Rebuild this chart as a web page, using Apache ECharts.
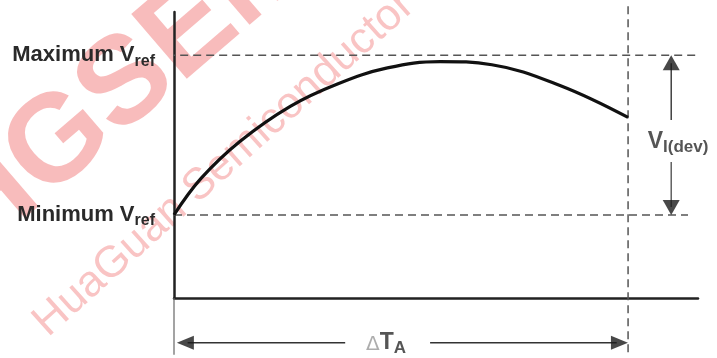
<!DOCTYPE html>
<html>
<head>
<meta charset="utf-8">
<script src="https://cdn.jsdelivr.net/npm/echarts@6/dist/echarts.min.js"></script>
<style>
html,body{margin:0;padding:0;background:#fff;}
#chart{width:717px;height:358px;}
</style>
</head>
<body>
<div id="chart"></div>
<script>
// curve: x in % of the temperature span, y as fraction between min and max Vref
var curveX = [0, 6, 14.5, 25.6, 36, 47, 58.6, 70, 85, 100];
var curveV = [0, 0.23, 0.46, 0.68, 0.82, 0.92, 0.96, 0.94, 0.81, 0.61];
var refLevels = [0, 1];
var refNames = ['Minimum', 'Maximum'];
var refEnds = [113.2, 115.4];
var tEnd = 100;          // end of delta T span
var devX = 109.5;        // V_I(dev) arrow position
var dtY = -0.8;          // delta T arrow position

var chart = echarts.init(document.getElementById('chart'));

var curveData = [];
for (var i = 0; i < curveX.length; i++) {
    curveData.push([curveX[i], curveV[i]]);
}

function plainLine(data, color, width, type) {
    return {
        type: 'line',
        data: data,
        symbol: 'none',
        clip: false,
        silent: true,
        animation: false,
        lineStyle: {color: color, width: width, type: type},
        z: 1
    };
}

var series = [{
    type: 'line',
    data: curveData,
    smooth: 0.4,
    symbol: 'none',
    animation: false,
    lineStyle: {color: '#111', width: 3.2},
    z: 5
}];

series.push(plainLine([[-1.5, refLevels[1]], [refEnds[1], refLevels[1]]], '#555', 1.5, [8, 5]));
series.push(plainLine([[0, refLevels[0]], [refEnds[0], refLevels[0]]], '#555', 1.5, [8, 5]));
series.push(plainLine([[tEnd, 1.306], [tEnd, -0.8625]], '#555', 1.5, [8, 5]));
series.push(plainLine([[0, -0.52], [0, -0.875]], '#666', 1.2, 'solid'));

// arrow shafts
series.push(plainLine([[devX, 0.594], [devX, 0.95]], '#333', 1.4, 'solid'));
series.push(plainLine([[devX, 0.331], [devX, 0.05]], '#555', 1.4, 'solid'));
series.push(plainLine([[37.7, dtY], [3, dtY]], '#333', 1.4, 'solid'));
series.push(plainLine([[56.4, dtY], [97.5, dtY]], '#333', 1.4, 'solid'));

// arrow heads (symbol centred on the point)
series.push({
    type: 'scatter',
    clip: false,
    silent: true,
    animation: false,
    symbol: 'triangle',
    itemStyle: {color: '#1a1a1a'},
    z: 6,
    data: [
        {value: [devX, 0.953], symbolSize: [17, 15], symbolRotate: 0},
        {value: [devX, 0.047], symbolSize: [17, 15], symbolRotate: 180},
        {value: [2.5, dtY], symbolSize: [14, 17], symbolRotate: 90},
        {value: [98.1, dtY], symbolSize: [14, 17], symbolRotate: -90}
    ]
});

series.push({
    type: 'scatter',
    symbolSize: 0,
    clip: false,
    silent: true,
    animation: false,
    data: [
        {value: [111.0, 0.46], name: 'dev'},
        {value: [46.7, dtY], name: 'dt'}
    ],
    label: {
        show: true,
        position: 'inside',
        formatter: function (p) {
            if (p.name === 'dev') return '{v|V}{s|I(dev)}';
            return '{d|\u0394}{t|T}{s|A}';
        },
        rich: {
            v: {fontSize: 23, fontWeight: 'bold', color: '#2a2a2a', fontFamily: 'Liberation Sans'},
            t: {fontSize: 23, fontWeight: 'bold', color: '#2a2a2a', fontFamily: 'Liberation Sans'},
            d: {fontSize: 20, color: '#999', fontFamily: 'DejaVu Sans', padding: [4, 0, 0, 0]},
            s: {fontSize: 17, fontWeight: 'bold', color: '#2a2a2a', fontFamily: 'Liberation Sans', padding: [12, 0, 0, 0]}
        }
    }
});

var option = {
    backgroundColor: '#fff',
    animation: false,
    grid: {left: 174, right: 19, top: 12, bottom: 60},
    graphic: [{
        type: 'text',
        x: 140, y: 74,
        rotation: 0.71,
        z: -10,
        silent: true,
        style: {
            text: 'HGSEMI',
            fontSize: 124,
            fontWeight: 'bold',
            fontFamily: 'Liberation Sans',
            fill: 'rgba(235,60,60,0.34)',
            align: 'center', verticalAlign: 'middle',
            textAlign: 'center', textVerticalAlign: 'middle'
        }
    }, {
        type: 'text',
        x: 224, y: 164,
        rotation: 0.73,
        z: -10,
        silent: true,
        style: {
            text: 'HuaGuan Semiconductor',
            fontSize: 44,
            fontFamily: 'Liberation Sans',
            fill: 'rgba(235,60,60,0.3)',
            align: 'center', verticalAlign: 'middle',
            textAlign: 'center', textVerticalAlign: 'middle'
        }
    }],
    xAxis: {
        type: 'value',
        min: 0,
        max: 115.4,
        axisLine: {show: true, onZero: false, lineStyle: {color: '#222', width: 2.5}},
        axisTick: {show: false},
        axisLabel: {show: false},
        splitLine: {show: false}
    },
    yAxis: {
        type: 'value',
        min: -0.52,
        max: 1.27,
        axisLine: {show: true, onZero: false, lineStyle: {color: '#222', width: 2.5}},
        axisTick: {show: false},
        splitLine: {show: false},
        axisLabel: {
            show: true,
            customValues: refLevels,
            margin: 19,
            formatter: function (v) {
                return '{m|' + refNames[refLevels.indexOf(v)] + ' V}{s|ref}';
            },
            rich: {
                m: {fontSize: 22, fontWeight: 'bold', color: '#2a2a2a', fontFamily: 'Liberation Sans'},
                s: {fontSize: 16, fontWeight: 'bold', color: '#2a2a2a', fontFamily: 'Liberation Sans', padding: [12, 0, 0, 0]}
            }
        }
    },
    series: series
};

chart.setOption(option);
</script>
</body>
</html>
